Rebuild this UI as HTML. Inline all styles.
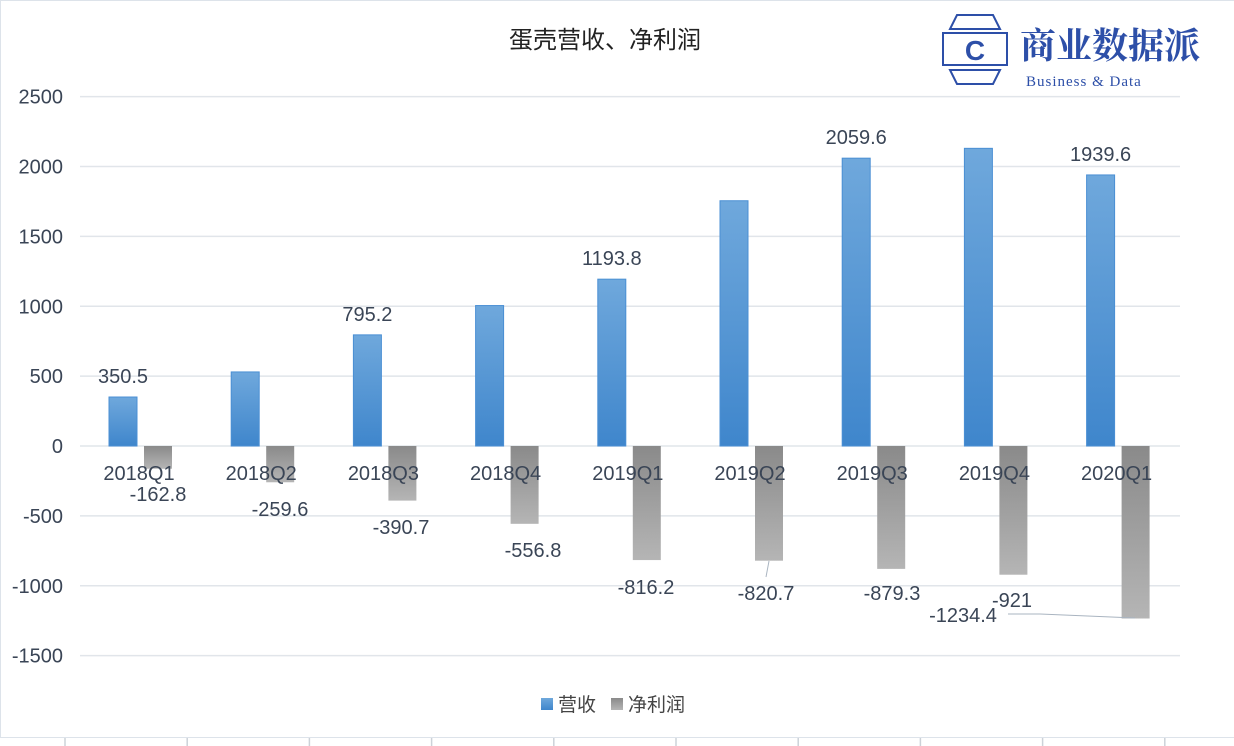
<!DOCTYPE html>
<html><head><meta charset="utf-8">
<style>
body{margin:0;background:#fff;width:1234px;height:746px;overflow:hidden;font-family:"Liberation Sans","Noto Sans CJK SC",sans-serif;}
svg{display:block}
</style></head>
<body>
<svg id="chart" width="1234" height="746" xmlns="http://www.w3.org/2000/svg">
<defs>
<linearGradient id="gb" x1="0" y1="0" x2="0" y2="1"><stop offset="0" stop-color="#6fa8dc"/><stop offset="1" stop-color="#3f86cc"/></linearGradient>
<linearGradient id="gg" x1="0" y1="0" x2="0" y2="1"><stop offset="0" stop-color="#8a8a8a"/><stop offset="1" stop-color="#b5b5b5"/></linearGradient>
</defs>
<rect x="0.5" y="0.5" width="1300" height="737" fill="none" stroke="#dde3ea"/>
<text x="605" y="48" text-anchor="middle" font-size="24" fill="#222">蛋壳营收、净利润</text>
<g>
<polygon points="957,15 993,15 1000,29 950,29" fill="none" stroke="#2d4fa8" stroke-width="2"/>
<polygon points="950,70 1000,70 993,84 957,84" fill="none" stroke="#2d4fa8" stroke-width="2"/>
<rect x="943" y="33" width="64" height="32" fill="none" stroke="#2d4fa8" stroke-width="2"/>
<text x="975" y="60" text-anchor="middle" font-size="28" font-weight="bold" fill="#2d4fa8">C</text>
<text x="1020" y="58" font-size="36" font-weight="bold" fill="#2d4fa8" font-family="'Noto Serif CJK SC',serif">商业数据派</text>
<text x="1026" y="86" font-size="15" fill="#2d4fa8" font-family="'Liberation Serif',serif" letter-spacing="1">Business &amp; Data</text>
</g>
<g id="plot"></g>
<g>
<rect x="541" y="698" width="12" height="12" fill="url(#gb)"/>
<text x="558" y="711" font-size="19" fill="#444">营收</text>
<rect x="611" y="698" width="12" height="12" fill="url(#gg)"/>
<text x="628" y="711" font-size="19" fill="#444">净利润</text>
</g>
</svg>
<script>
const categories=["2018Q1","2018Q2","2018Q3","2018Q4","2019Q1","2019Q2","2019Q3","2019Q4","2020Q1"];
const revenue=[350.5,530,795.2,1005,1193.8,1755,2059.6,2130,1939.6];
const profit=[-162.8,-259.6,-390.7,-556.8,-816.2,-820.7,-879.3,-921,-1234.4];
const revLabels=["350.5","","795.2","","1193.8","","2059.6","","1939.6"];
const profLabels=["-162.8","-259.6","-390.7","-556.8","-816.2","-820.7","-879.3","-921","-1234.4"];
const yTicks=[2500,2000,1500,1000,500,0,-500,-1000,-1500];
const NS="http://www.w3.org/2000/svg";
const g=document.getElementById('plot');
const y=v=>446-v*0.13975;
const x0=65,cw=122.2;
const cx=i=>x0+cw*i;
function mk(t,a,txt){const e=document.createElementNS(NS,t);for(const k in a)e.setAttribute(k,a[k]);if(txt!==undefined)e.textContent=txt;g.appendChild(e);return e;}
yTicks.forEach(v=>{
 const l=mk('line',{x1:80,x2:1180,y1:y(v),y2:y(v),stroke:'#e1e5ea','stroke-width':1.5});
 
 
 const t=mk('text',{x:63,y:y(v)+7,'text-anchor':'end','font-size':20,fill:'#3a4556'},String(v));
 
 
});
for(let i=0;i<=categories.length;i++){
 const tk=mk('line',{x1:cx(i),x2:cx(i),y1:738,y2:746,stroke:'#ccd2d8','stroke-width':1.5});
 
 
}
categories.forEach((c,i)=>{
 const rv=revenue[i],pv=profit[i];
 const b=mk('rect',{x:cx(i)+44,y:y(rv),width:28,height:y(0)-y(rv),fill:'url(#gb)',stroke:'#4a8fd4','stroke-width':1});
 
 
 const p=mk('rect',{x:cx(i)+79,y:y(0),width:28,height:y(pv)-y(0),fill:'url(#gg)'});
 
 
 const xl=mk('text',{x:cx(i)+74,y:480,'text-anchor':'middle','font-size':20,fill:'#3a4556'},c);
 
 
 if(revLabels[i]){
  const rl=mk('text',{x:cx(i)+58,y:y(rv)-14,'text-anchor':'middle','font-size':20,fill:'#3a4556'},revLabels[i]);
  
  
 }
});
const profPos=[[158,501],[280,516],[401,534],[533,557],[646,594],[766,600],[892,600],[1012,607],[963,622]];
profLabels.forEach((s,i)=>{
 const t=mk('text',{x:profPos[i][0],y:profPos[i][1],'text-anchor':'middle','font-size':20,fill:'#3a4556'},s);
 
 
});
const ld1=mk('polyline',{points:'769,561 766,577',fill:'none',stroke:'#a9b4c0'});


const ld2=mk('polyline',{points:'1008,614 1040,614 1135,618',fill:'none',stroke:'#a9b4c0'});


</script>
</body></html>
